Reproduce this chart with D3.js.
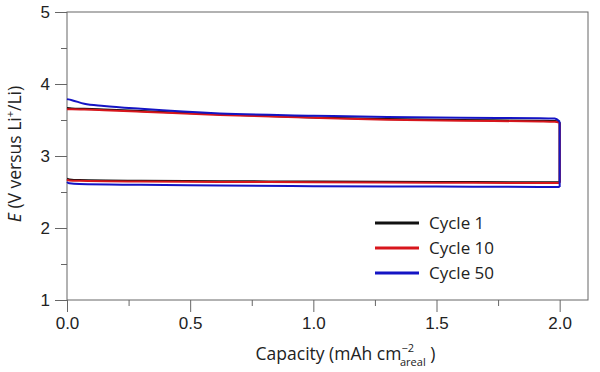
<!DOCTYPE html>
<html>
<head>
<meta charset="utf-8">
<script src="https://cdn.jsdelivr.net/npm/d3@7"></script>
<style>
  body { margin: 0; background: #fff; }
  svg { font-family: "Open Sans", "Noto Sans", sans-serif; }
</style>
</head>
<body>
<div id="chart"></div>
<script>
// capacity points (mAh cm-2) and voltages
const upperCap = [0, 0.02, 0.07, 0.15, 0.3, 0.62, 1.0, 1.3, 1.6, 1.92, 1.98, 2.0];
const lowerCap = [0, 0.01, 0.05, 0.3, 0.62, 1.0, 1.5, 1.92, 2.0];

const cycle1Upper = [3.665, 3.66, 3.655, 3.645, 3.625, 3.58, 3.535, 3.515, 3.5, 3.49, 3.485, 3.47];
const cycle1Lower = [2.685, 2.675, 2.665, 2.655, 2.65, 2.645, 2.64, 2.635, 2.635];
const cycle10Upper = [3.65, 3.65, 3.645, 3.635, 3.615, 3.57, 3.53, 3.505, 3.49, 3.48, 3.475, 3.46];
const cycle10Lower = [2.67, 2.66, 2.655, 2.645, 2.64, 2.635, 2.63, 2.625, 2.625];
const cycle50Upper = [3.79, 3.775, 3.725, 3.695, 3.655, 3.59, 3.56, 3.54, 3.53, 3.525, 3.52, 3.48];
const cycle50Lower = [2.64, 2.62, 2.61, 2.6, 2.59, 2.58, 2.575, 2.57, 2.57];

const cycles = [
  {name: 'Cycle 1', upper: cycle1Upper, lower: cycle1Lower},
  {name: 'Cycle 10', upper: cycle10Upper, lower: cycle10Lower},
  {name: 'Cycle 50', upper: cycle50Upper, lower: cycle50Lower},
];
const colorMap = {'Cycle 1': '#111111', 'Cycle 10': '#d8161c', 'Cycle 50': '#1414c4'};

const xTicks = [0, 0.5, 1.0, 1.5, 2.0];
const yTicks = [1, 2, 3, 4, 5];

const margins = {top: 12, right: 12, bottom: 72, left: 67};
const width = 600, height = 372;
const innerW = width - margins.left - margins.right;
const innerH = height - margins.top - margins.bottom;

const svg = d3.select('#chart').append('svg')
  .attr('width', width)
  .attr('height', height)
  .append('g')
  .attr('transform', `translate(${margins.left},${margins.top})`);

const x = d3.scaleLinear().domain([0, 2.115]).range([0, innerW]);
const y = d3.scaleLinear().domain([1, 5]).range([innerH, 0]);

const axisColor = '#666';
const textColor = '#222';

// frame
svg.append('rect')
  .attr('width', innerW).attr('height', innerH)
  .attr('fill', 'none').attr('stroke', axisColor).attr('stroke-width', 1);

// minor ticks
svg.append('g')
  .attr('transform', `translate(0,${innerH})`)
  .call(d3.axisBottom(x).tickValues([0.25, 0.75, 1.25, 1.75]).tickSize(6).tickFormat(''))
  .call(g => g.select('.domain').remove())
  .selectAll('line').attr('stroke', axisColor);
svg.append('g')
  .call(d3.axisLeft(y).tickValues([1.5, 2.5, 3.5, 4.5]).tickSize(6).tickFormat(''))
  .call(g => g.select('.domain').remove())
  .selectAll('line').attr('stroke', axisColor);

// major ticks
const xAxis = svg.append('g')
  .attr('transform', `translate(0,${innerH})`)
  .call(d3.axisBottom(x).tickValues(xTicks).tickSize(12).tickPadding(5).tickFormat(d3.format('.1f')));
xAxis.select('.domain').remove();
xAxis.selectAll('line').attr('stroke', axisColor);
xAxis.selectAll('text').attr('fill', textColor).style('font-size', '17px');

const yAxis = svg.append('g')
  .call(d3.axisLeft(y).tickValues(yTicks).tickSize(12).tickPadding(5).tickFormat(d3.format('d')));
yAxis.select('.domain').remove();
yAxis.selectAll('line').attr('stroke', axisColor);
yAxis.selectAll('text').attr('fill', textColor).style('font-size', '17px');

// curves: lower branch out to 2.0, then back along the upper branch
const line = d3.line().x(d => x(d[0])).y(d => y(d[1])).curve(d3.curveMonotoneX);
cycles.forEach(c => {
  const lower = line(lowerCap.map((v, i) => [v, c.lower[i]]));
  const upper = line(upperCap.map((v, i) => [v, c.upper[i]]));
  svg.append('path')
    .attr('d', lower + upper + `M${x(2.0)},${y(c.lower[c.lower.length - 1])}V${y(c.upper[c.upper.length - 1])}`)
    .attr('fill', 'none')
    .attr('stroke', colorMap[c.name])
    .attr('stroke-width', 2)
    .attr('stroke-linejoin', 'round');
});

// legend
const legend = svg.append('g').attr('transform', 'translate(308,211)');
cycles.forEach((c, i) => {
  legend.append('line')
    .attr('x1', 0).attr('x2', 44)
    .attr('y1', i * 25).attr('y2', i * 25)
    .attr('stroke', colorMap[c.name]).attr('stroke-width', 3);
  legend.append('text')
    .attr('x', 54).attr('y', i * 25)
    .attr('dy', '0.35em')
    .attr('fill', textColor)
    .style('font-size', '17px')
    .text(c.name);
});

// axis titles
const xTitle = svg.append('text')
  .attr('x', innerW / 2 + 18).attr('y', innerH + 60)
  .attr('text-anchor', 'middle')
  .attr('fill', textColor)
  .style('font-size', '17.5px');
xTitle.append('tspan').text('Capacity (mAh cm');
xTitle.append('tspan').attr('dy', -8).style('font-size', '11px').text('\u22122');
xTitle.append('tspan').attr('dx', -14).attr('dy', 14).style('font-size', '11px').text('areal');
xTitle.append('tspan').attr('dy', -6).text(' )');

const yTitle = svg.append('text')
  .attr('transform', `translate(-46,${innerH / 2 - 2}) rotate(-90)`)
  .attr('text-anchor', 'middle')
  .attr('fill', textColor)
  .style('font-size', '17.5px');
yTitle.append('tspan').style('font-style', 'italic').text('E');
yTitle.append('tspan').text(' (V versus Li');
yTitle.append('tspan').attr('dy', -7).style('font-size', '11px').text('+');
yTitle.append('tspan').attr('dy', 7).text('/Li)');
</script>
</body>
</html>
